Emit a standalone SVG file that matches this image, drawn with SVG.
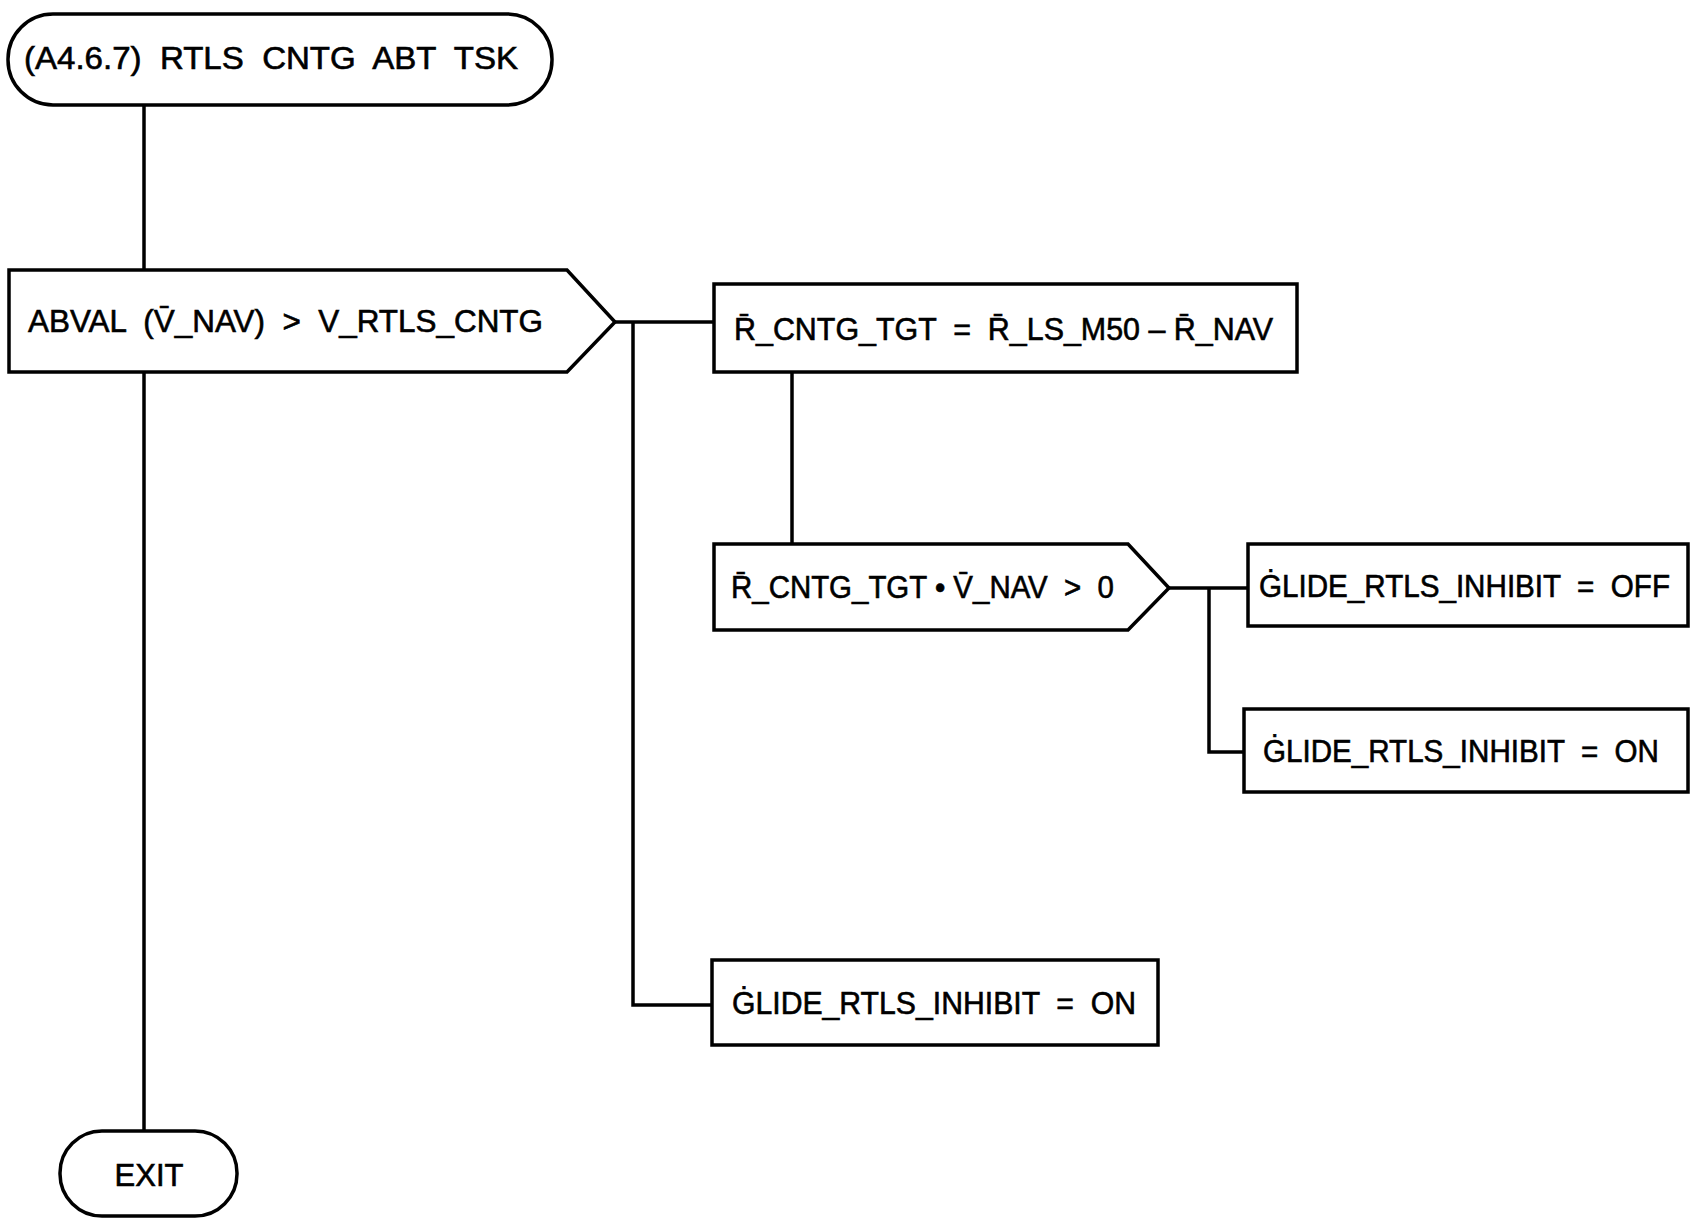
<svg xmlns="http://www.w3.org/2000/svg" width="1692" height="1221" viewBox="0 0 1692 1221">
<style>
.s{fill:#fff;stroke:#000;stroke-width:3.5;stroke-linejoin:miter}
.c{fill:none;stroke:#000;stroke-width:3.5}
.t{font-family:"Liberation Sans",Arial,sans-serif;font-size:31px;fill:#000;stroke:#000;stroke-width:0.6}
</style>
<rect width="1692" height="1221" fill="#fff"/>
<g id="connectors">
<path class="c" d="M144 105 V270"/>
<path class="c" d="M144 372 V1131"/>
<path class="c" d="M615 322 H714"/>
<path class="c" d="M633 322 V1005 H712"/>
<path class="c" d="M792 372 V544"/>
<path class="c" d="M1169 588 H1248"/>
<path class="c" d="M1209 588 V752 H1244"/>
</g>
<g id="start">
<rect class="s" x="8" y="14" width="544" height="91" rx="45" ry="45"/>
<text class="t" x="24" y="69" font-size="33" textLength="494" lengthAdjust="spacingAndGlyphs" xml:space="preserve">(A4.6.7)  RTLS  CNTG  ABT  TSK</text>
</g>
<g id="decision1">
<path class="s" d="M9 270 H567 L615 322 L567 372 H9 Z"/>
<text class="t" x="28" y="332" textLength="515" lengthAdjust="spacingAndGlyphs" xml:space="preserve">ABVAL  (V̄_NAV)  &gt;  V_RTLS_CNTG</text>
</g>
<g id="box1">
<rect class="s" x="714" y="284" width="583" height="88"/>
<text class="t" x="734" y="340" textLength="539" lengthAdjust="spacingAndGlyphs" xml:space="preserve">R̄_CNTG_TGT  =  R̄_LS_M50 – R̄_NAV</text>
</g>
<g id="decision2">
<path class="s" d="M714 544 H1128 L1169 588 L1128 630 H714 Z"/>
<text class="t" x="731" y="598" textLength="383" lengthAdjust="spacingAndGlyphs" xml:space="preserve">R̄_CNTG_TGT • V̄_NAV  &gt;  0</text>
</g>
<g id="box3">
<rect class="s" x="1248" y="544" width="440" height="82"/>
<text class="t" x="1259" y="597" textLength="411" lengthAdjust="spacingAndGlyphs" xml:space="preserve">ĠLIDE_RTLS_INHIBIT  =  OFF</text>
</g>
<g id="box4">
<rect class="s" x="1244" y="709" width="444" height="83"/>
<text class="t" x="1263" y="762" textLength="396" lengthAdjust="spacingAndGlyphs" xml:space="preserve">ĠLIDE_RTLS_INHIBIT  =  ON</text>
</g>
<g id="box5">
<rect class="s" x="712" y="960" width="446" height="85"/>
<text class="t" x="732" y="1014" textLength="404" lengthAdjust="spacingAndGlyphs" xml:space="preserve">ĠLIDE_RTLS_INHIBIT  =  ON</text>
</g>
<g id="exit">
<rect class="s" x="60" y="1131" width="177" height="85" rx="42" ry="42"/>
<text class="t" x="149" y="1186" text-anchor="middle">EXIT</text>
</g>
</svg>
